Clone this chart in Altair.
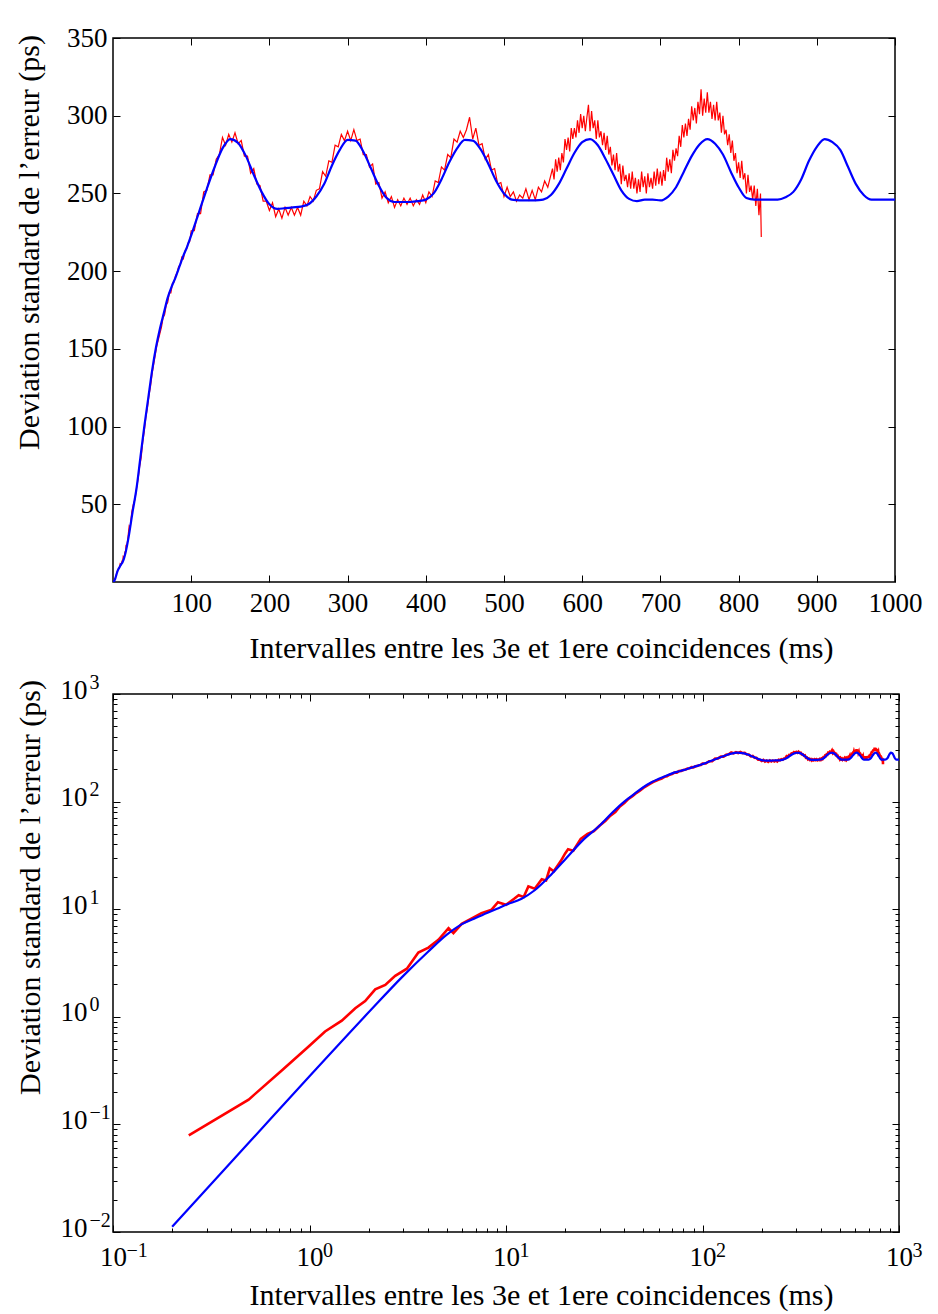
import altair as alt
import pandas as pd

FONT = "Liberation Serif"
RED = "#ff0000"
BLUE = "#0000ff"

# ---------------- Blue (model) curve ----------------
blue_x_low = [0, 0.2, 0.5, 1, 2, 3, 4, 5, 6, 7, 8, 9, 10, 12, 14, 17, 20, 25, 30, 35,
              40, 45, 50, 55, 60, 65, 70, 75, 80, 85, 90, 95]
blue_y_low = [0, 0.0112, 0.07, 0.28, 1.1, 2.4, 4.0, 5.8, 7.3, 8.3, 9.2, 10.1, 11, 12.5, 15, 21,
              29, 45, 60, 80, 100, 118, 136, 151, 163, 173, 183, 190, 196, 203, 210, 216]
# values every 10 ms from 100 to 1000
blue_y_grid = [223, 238, 253, 267, 279, 285, 282.5, 274, 262, 251,
               243, 240, 240.5, 241, 241.5, 243, 248, 256, 268, 278,
               284.5, 284, 277, 266, 255, 247, 244.5, 244.5, 244.5, 245,
               246, 250, 259, 270, 279, 284.5, 284, 278.5, 269, 258,
               250, 246, 245.5, 245.5, 245.5, 246, 249, 256, 266, 276,
               283, 285, 281, 272, 262, 252, 246.5, 245, 246, 246,
               245.5, 248, 254, 264, 274, 281.5, 285, 282, 275, 264,
               254, 247, 246, 246, 246, 246, 247.5, 251, 259, 271,
               280, 285, 283, 278, 267, 256, 249, 246, 246, 246,
               246]
blue_x_grid = [100 + 10 * i for i in range(len(blue_y_grid))]

# ---------------- Red (measured) curve ----------------
red_x_low = [0.243, 0.49, 0.72, 0.99, 1.2, 1.46, 1.71, 1.92, 2.16, 2.43, 2.73, 3.13, 3.58,
             4.03, 4.53, 5.1, 5.4, 5.95, 6.7, 7.5, 8.45, 9.1, 10, 11, 11.6, 12.3, 13, 14,
             15.2, 16, 16.7, 17.5, 19, 20, 20.7, 22, 24, 26, 28, 30, 32, 34, 36, 38, 40,
             42, 44, 46, 48, 50, 52, 54, 56, 58, 60, 62, 64, 66, 68, 70, 72, 74, 76, 78,
             80, 82, 84, 86, 88, 90, 92, 94, 96, 98]
red_y_low = [0.079, 0.17, 0.315, 0.53, 0.73, 0.92, 1.2, 1.4, 1.8, 1.98, 2.4, 2.8, 3.95,
             4.4, 5.2, 6.65, 6.0, 7.3, 8.2, 9.2, 9.9, 11.6, 11, 12.5, 13.5, 13, 16.3, 15.5,
             19, 18.5, 24, 22.5, 28, 33, 36, 35, 45, 50, 53, 60, 66, 74, 80, 90, 97,
             106, 112, 120, 126, 134, 140, 146, 152, 156, 160, 164, 170, 172, 178, 180, 186, 186, 192, 193,
             197, 199, 203, 204, 209, 208, 213, 214, 218, 219]
# values every 4 ms from 100 to 560
red_y_mid = [226, 226, 237, 237, 251, 252, 262, 262, 272, 275,
             286, 281, 288, 283, 289, 282, 284, 274, 274, 263,
             266, 256, 255, 245, 245, 239, 244, 235, 240, 234,
             241, 236, 241, 236, 241, 236, 245, 242, 248, 245,
             252, 253, 264, 261, 271, 270, 281, 280, 288, 284,
             290, 284, 291, 284, 285, 275, 275, 267, 269, 256,
             257, 247, 251, 244, 248, 241, 246, 242, 247, 243,
             247, 242, 246, 243, 249, 244, 251, 248, 258, 257,
             267, 265, 275, 273, 285, 283, 290, 286, 291, 299,
             285, 292, 281, 282, 272, 275, 265, 266, 256, 257,
             248, 254, 248, 251, 245, 249, 247, 253, 246, 252,
             246, 254, 251, 258, 254, 262]
red_x_mid = [100 + 4 * i for i in range(len(red_y_mid))]
# values every 2 ms from 562 to 824
red_y_high = [266, 259, 272, 264, 273, 265, 276, 270, 285, 278,
              286, 277, 292, 285, 292, 286, 297, 289, 301, 292,
              300, 290, 299, 307, 290, 303, 292, 297, 285, 297,
              286, 290, 281, 289, 278, 287, 275, 280, 268, 275,
              265, 276, 264, 269, 256, 268, 258, 262, 254, 263,
              253, 264, 253, 260, 250, 259, 251, 264, 254, 261,
              250, 263, 254, 260, 253, 264, 255, 266, 256, 264,
              255, 265, 258, 273, 264, 272, 263, 278, 271, 279,
              274, 287, 280, 294, 286, 295, 287, 298, 291, 306,
              297, 305, 295, 309, 301, 317, 300, 311, 302, 315,
              302, 309, 298, 307, 297, 309, 297, 302, 289, 300,
              288, 291, 281, 288, 276, 284, 271, 276, 263, 270,
              260, 271, 259, 263, 250, 262, 251, 255, 246, 255,
              242, 253]
red_x_high = [562 + 2 * i for i in range(len(red_y_high))]
red_x_tail = [826, 828, 829]
red_y_tail = [236, 250, 222]

blue_df = pd.DataFrame({"x": blue_x_low + blue_x_grid, "y": blue_y_low + blue_y_grid})
red_df = pd.DataFrame({"x": red_x_low + red_x_mid + red_x_high + red_x_tail,
                       "y": red_y_low + red_y_mid + red_y_high + red_y_tail})

# ---------------- Axis ticks / labels ----------------
lin_x_ticks = [100, 200, 300, 400, 500, 600, 700, 800, 900, 1000]
lin_y_ticks = [50, 100, 150, 200, 250, 300, 350]
log_x_ticks = [0.1, 1, 10, 100, 1000]
log_y_ticks = [0.01, 0.1, 1, 10, 100, 1000]
log_x_minor = [m * 10.0 ** e for e in range(-1, 3) for m in range(2, 10)]
log_y_minor = [m * 10.0 ** e for e in range(-2, 3) for m in range(2, 10)]

XTITLE = "Intervalles entre les 3e et 1ere coincidences (ms)"
YTITLE = "Deviation standard de l\u2019erreur (ps)"

EXP_LABELS = ("datum.value < 0.05 ? '\u22122' : datum.value < 0.5 ? '\u22121' : "
              "datum.value < 5 ? '0' : datum.value < 50 ? '1' : datum.value < 500 ? '2' : '3'")

MAJ = 7
MIN = 4
LFS = 27
TFS = 30
EFS = 20


def tick_axis(orient, values, size):
    return alt.Axis(orient=orient, values=values, tickSize=size, offset=-size, domain=False,
                    grid=False, labels=False, title=None, tickColor="black", tickWidth=1)


def x_main_axis(values, title_y, label_pad, expr=None, fmt=None):
    kw = dict(orient="bottom", values=values, tickSize=MAJ, offset=-MAJ, domain=False, grid=False,
              tickColor="black", tickWidth=1, labelPadding=label_pad, labelFont=FONT,
              labelFontSize=LFS, labelColor="black", labelFlush=False, labelOverlap=False,
              title=XTITLE, titleFont=FONT, titleFontSize=TFS, titleFontWeight="normal",
              titleColor="black", titleX=428, titleY=title_y, titleAlign="center",
              titleBaseline="middle", titleAngle=0)
    if expr is not None:
        kw["labelExpr"] = expr
    if fmt is not None:
        kw["format"] = fmt
    return alt.Axis(**kw)


def y_main_axis(values, title_x, title_y, label_pad, expr=None, label_off=0):
    kw = dict(orient="left", values=values, tickSize=MAJ, offset=-MAJ, domain=False, grid=False,
              tickColor="black", tickWidth=1, labelPadding=label_pad, labelFont=FONT,
              labelFontSize=LFS, labelColor="black", labelFlush=False, labelOverlap=False,
              labelOffset=label_off,
              title=YTITLE, titleFont=FONT, titleFontSize=TFS, titleFontWeight="normal",
              titleColor="black", titleX=title_x, titleY=title_y, titleAlign="center",
              titleBaseline="middle", titleAngle=270)
    if expr is not None:
        kw["labelExpr"] = expr
    return alt.Axis(**kw)


# ---------------- Top panel (linear) ----------------
xs_lin = alt.Scale(domain=[0, 1000], nice=False, zero=False)
ys_lin = alt.Scale(domain=[0, 350], nice=False, zero=False)

top_red = alt.Chart(red_df).mark_line(color=RED, strokeWidth=1.2, clip=True).encode(
    x=alt.X("x:Q", scale=xs_lin, axis=x_main_axis(lin_x_ticks, 73, 8, fmt="d")),
    y=alt.Y("y:Q", scale=ys_lin, axis=y_main_axis(lin_y_ticks, -91, 204, 6)),
)
top_blue = alt.Chart(blue_df).mark_line(color=BLUE, strokeWidth=2.2, clip=True,
                                        interpolate="monotone").encode(
    x=alt.X("x:Q", scale=xs_lin, axis=tick_axis("top", lin_x_ticks, MAJ)),
    y=alt.Y("y:Q", scale=ys_lin, axis=tick_axis("right", lin_y_ticks, MAJ)),
)
top = alt.layer(top_red, top_blue).resolve_axis(x="independent", y="independent").properties(
    width=782, height=544)

# ---------------- Bottom panel (log-log) ----------------
xs_log = alt.Scale(type="log", domain=[0.1, 1000], nice=False)
ys_log = alt.Scale(type="log", domain=[0.01, 1000], nice=False)

bot_red = alt.Chart(red_df).transform_filter("datum.x > 0").mark_line(
    color=RED, strokeWidth=2.6, clip=True).encode(
    x=alt.X("x:Q", scale=xs_log, axis=x_main_axis(log_x_ticks, 70, 12, expr="'10'")),
    y=alt.Y("y:Q", scale=ys_log, axis=y_main_axis(log_y_ticks, -90, 193, 26, expr="'10'",
                                                  label_off=-4)),
)
bot_blue = alt.Chart(blue_df).transform_filter("datum.x > 0").mark_line(
    color=BLUE, strokeWidth=2.2, clip=True, interpolate="monotone").encode(
    x=alt.X("x:Q", scale=xs_log, axis=tick_axis("top", log_x_ticks, MAJ)),
    y=alt.Y("y:Q", scale=ys_log, axis=tick_axis("right", log_y_ticks, MAJ)),
)
bot_minor1 = alt.Chart(red_df).transform_filter("datum.x > 0").mark_line(
    strokeOpacity=0, clip=True).encode(
    x=alt.X("x:Q", scale=xs_log, axis=tick_axis("bottom", log_x_minor, MIN)),
    y=alt.Y("y:Q", scale=ys_log, axis=tick_axis("left", log_y_minor, MIN)),
)
bot_minor2 = alt.Chart(blue_df).transform_filter("datum.x > 0").mark_line(
    strokeOpacity=0, clip=True).encode(
    x=alt.X("x:Q", scale=xs_log, axis=tick_axis("top", log_x_minor, MIN)),
    y=alt.Y("y:Q", scale=ys_log, axis=tick_axis("right", log_y_minor, MIN)),
)
exp_x_axis = alt.Axis(orient="bottom", values=log_x_ticks, tickSize=MAJ, offset=-MAJ,
                      tickOpacity=0, domain=False, grid=False, title=None, labelExpr=EXP_LABELS,
                      labelFont=FONT, labelFontSize=EFS, labelColor="black", labelAlign="left",
                      labelOffset=13, labelPadding=8, labelFlush=False, labelOverlap=False)
exp_y_axis = alt.Axis(orient="left", values=log_y_ticks, tickSize=MAJ, offset=-MAJ,
                      tickOpacity=0, domain=False, grid=False, title=None, labelExpr=EXP_LABELS,
                      labelFont=FONT, labelFontSize=EFS, labelColor="black", labelAlign="left",
                      labelPadding=24, labelOffset=-12, labelFlush=False, labelOverlap=False)
bot_exp = alt.Chart(blue_df).transform_filter("datum.x > 0").mark_line(
    strokeOpacity=0, clip=True).encode(
    x=alt.X("x:Q", scale=xs_log, axis=exp_x_axis),
    y=alt.Y("y:Q", scale=ys_log, axis=exp_y_axis),
)
bottom = alt.layer(bot_red, bot_blue, bot_minor1, bot_minor2, bot_exp).resolve_axis(
    x="independent", y="independent").properties(width=786, height=538)

chart = alt.vconcat(top, bottom, spacing=7).properties(
    padding={"left": 5, "top": 15, "right": 5, "bottom": 5},
    background="white",
).configure_view(stroke="black", strokeWidth=1.5)

chart.save("out.html", embed_options={"renderer": "svg", "actions": False})
